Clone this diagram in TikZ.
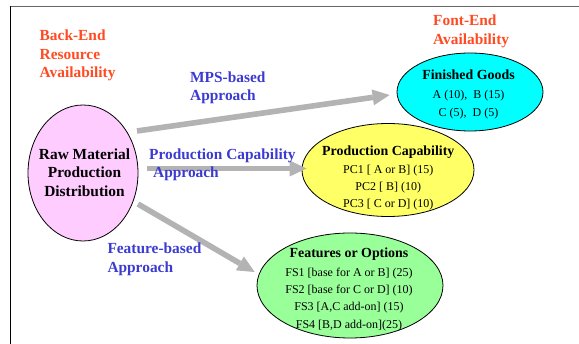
\documentclass[tikz,border=0pt]{standalone}
\usepackage{fontspec}
\setmainfont{Liberation Serif}
\usetikzlibrary{shapes.geometric,arrows.meta}
\definecolor{orng}{HTML}{FF4A22}
\definecolor{blu}{HTML}{3B3BD2}
\definecolor{pinkf}{HTML}{FFCCFF}
\definecolor{cyanf}{HTML}{00FFFF}
\definecolor{yelf}{HTML}{FFFF66}
\definecolor{grnf}{HTML}{99FF99}
\definecolor{arrg}{HTML}{B3B3B3}
\begin{document}
\begin{tikzpicture}[x=1pt,y=-1pt,
  oval/.style={ellipse,draw=black,line width=0.8pt,inner sep=0pt},
  lab/.style={anchor=base west,inner sep=0pt,font=\fontsize{15.4}{18}\selectfont\bfseries},
  orlab/.style={lab,text=orng},
  bllab/.style={lab,text=blu},
  ttl/.style={anchor=base,inner sep=0pt,font=\fontsize{13.9}{16}\selectfont\bfseries},
  ent/.style={anchor=base,inner sep=0pt,font=\fontsize{12}{14}\selectfont},
  rawt/.style={anchor=base,inner sep=0pt,font=\fontsize{15.4}{18}\selectfont\bfseries},
  garrow/.style={draw=arrg,line width=5.6pt,-{Triangle[length=17pt,width=16pt,line width=0pt]}}
]
\useasboundingbox[fill=white] (0,0) rectangle (579,344);
% frame
\draw[draw=black!60,line width=1.5pt] (10,6.5) -- (579,6.5);
\draw[draw=black,line width=1.2pt] (10.5,6) -- (10.5,344);

% ellipses
\node[oval,fill=pinkf,minimum width=110pt,minimum height=136pt] (raw) at (83,173) {};
\node[oval,fill=cyanf,minimum width=146pt,minimum height=78pt] (fg) at (470,92) {};
\node[oval,fill=yelf,minimum width=172pt,minimum height=93pt] (pc) at (388,170) {};
\node[oval,fill=grnf,minimum width=186pt,minimum height=105pt] (fo) at (350,285.5) {};

% arrows
\draw[garrow] ([shift={(54,-42)}]raw.center) -- ([shift={(-7,3)}]fg.west);
\draw[garrow] ([shift={(64,-4.5)}]raw.center) -- ([shift={(5,-1.5)}]pc.west);
\draw[garrow] ([shift={(55,31)}]raw.center) -- ([shift={(-2,-13.5)}]fo.west);

% raw text
\node[rawt] (r1) at (84.5,160) {Raw Material};
\node[rawt] (r2) at (84.5,178) {Production};
\node[rawt] (r3) at (84.5,196.5) {Distribution};

% finished goods text
\node[ttl] (f1) at (468.5,80) {Finished Goods};
\node[ent] (f2) at (468.5,98.3) {A (10),\ \ B (15)};
\node[ent] (f3) at (468.5,116.7) {C (5),\ \ D (5)};

% production capability text
\node[ttl] (p1) at (388.3,155.3) {Production Capability};
\node[ent] (p2) at (388.3,173.3) {PC1 [ A or B] (15)};
\node[ent] (p3) at (388.3,190.3) {PC2 [ B] (10)};
\node[ent] (p4) at (388.3,207.3) {PC3 [ C or D] (10)};

% features text
\node[ttl] (o1) at (349,257.3) {Features or Options};
\node[ent] (o2) at (349,276.7) {FS1 [base for A or B] (25)};
\node[ent] (o3) at (349,294) {FS2 [base for C or D] (10)};
\node[ent] (o4) at (349,311) {FS3 [A,C add-on] (15)};
\node[ent] (o5) at (349,328.7) {FS4 [B,D add-on](25)};

% labels
\node[orlab] (be1) at (39.5,41) {Back-End};
\node[orlab] (be2) at (39.5,59.5) {Resource};
\node[orlab] (be3) at (39.5,78) {Availability};
\node[orlab] (fe1) at (433,26) {Font-End};
\node[orlab] (fe2) at (433,44.5) {Availability};
\node[bllab] (m1) at (190,83) {MPS-based};
\node[bllab] (m2) at (190,101) {Approach};
\node[bllab] (c1) at (149,160) {Production Capability};
\node[bllab] (c2) at (153,178) {Approach};
\node[bllab] (fb1) at (107.3,254) {Feature-based};
\node[bllab] (fb2) at (107.3,272.5) {Approach};
\end{tikzpicture}
\end{document}
